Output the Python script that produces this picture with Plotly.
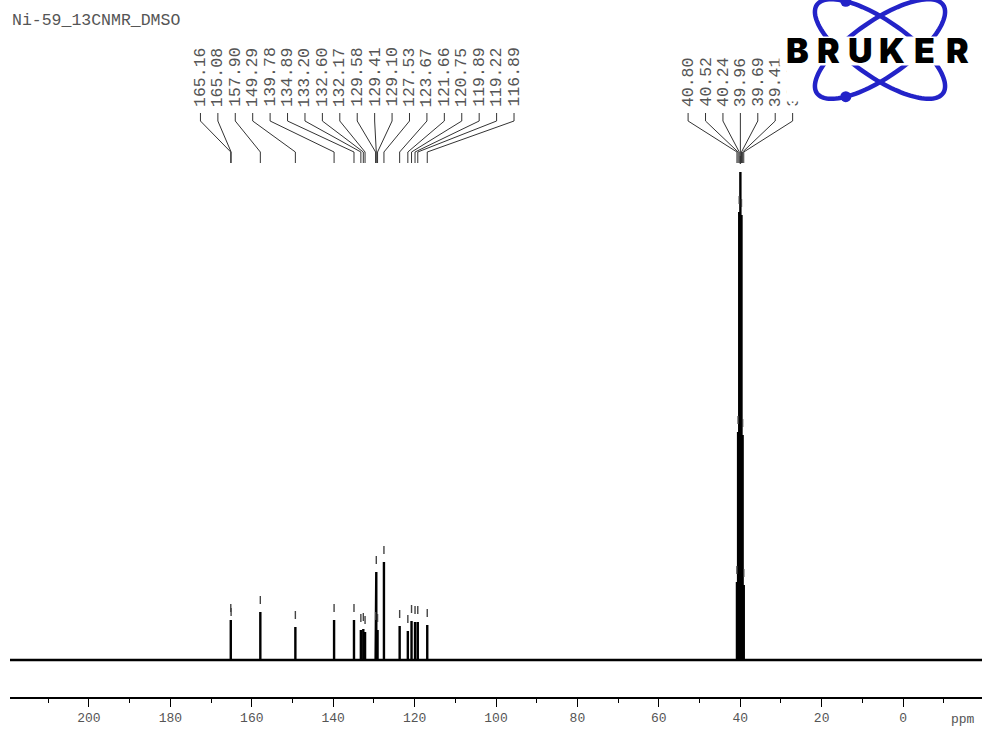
import math
import plotly.graph_objects as go

# ---------------- data ----------------
title_text = "Ni-59_13CNMR_DMSO"

arom_ppm = [165.16, 165.08, 157.90, 149.29, 139.78, 134.89, 133.20, 132.60, 132.17,
            129.58, 129.41, 129.10, 127.53, 123.67, 121.66, 120.75, 119.89, 119.22, 116.89]
arom_int = [40, 36, 48, 33, 40, 40, 30, 31, 28,
            32, 88, 30, 98, 34, 29, 39, 38, 38, 35]

dmso_ppm = [40.80, 40.52, 40.24, 39.96, 39.69, 39.41, 39.13]
dmso_int = [78, 228, 448, 488, 445, 225, 75]

tick_vals = [200, 180, 160, 140, 120, 100, 80, 60, 40, 20, 0]
tick_text = ["200", "180", "160", "140", "120", "100", "80", "60", "40", "20", "0"]
unit_label = "ppm"
logo_letters = ["B", "R", "U", "K", "E", "R"]

# ---------------- layout constants ----------------
W, H = 989, 741
X_RANGE = [219.4, -19.4]
Y_RANGE = [-37, 660]
LABEL_SPACING = 4.28      # ppm between label slots
MONO = "Liberation Mono, Courier New, monospace"
GREY = "#555555"
BLUE = "#2323c8"


def py2y(p):
    """pixel row -> data y"""
    return 660 - p


fig = go.Figure()

# spectrum (stick representation of picked peaks on a baseline)
all_pk = sorted(zip(arom_ppm + dmso_ppm, arom_int + dmso_int), key=lambda t: -t[0])
sx, sy = [X_RANGE[0]], [0]
for p, h in all_pk:
    sx += [p, p, p]
    sy += [0, h, 0]
sx.append(X_RANGE[1])
sy.append(0)
fig.add_trace(go.Scatter(x=sx, y=sy, mode="lines",
                         line=dict(color="black", width=2.4), hoverinfo="skip"))

# peak-pick markers above each peak
mx, my = [], []
for p, h in all_pk:
    mx += [p, p, None]
    my += [h + 8, h + 16, None]
fig.add_trace(go.Scatter(x=mx, y=my, mode="lines",
                         line=dict(color="#444444", width=1.4), hoverinfo="skip"))

# label slots and connectors
annotations = []


def add_group(ppms):
    n = len(ppms)
    center = sum(ppms) / n
    slots = [center + ((n - 1) / 2 - i) * LABEL_SPACING for i in range(n)]
    cx, cy = [], []
    for s, p in zip(slots, ppms):
        cx += [s, s, p, p, None]
        cy += [py2y(113), py2y(121), py2y(152), py2y(163), None]
        annotations.append(dict(
            x=s, y=py2y(109), xref="x", yref="y", text=f"{p:.2f}",
            textangle=-90, showarrow=False, xanchor="center", yanchor="bottom",
            font=dict(family=MONO, size=16.5, color=GREY)))
    fig.add_trace(go.Scatter(x=cx, y=cy, mode="lines",
                             line=dict(color="#333333", width=1), hoverinfo="skip"))


add_group(arom_ppm)
add_group(dmso_ppm)

# title
annotations.append(dict(x=10 / W, y=1 - 20 / H, xref="paper", yref="paper",
                        text=title_text, showarrow=False, xanchor="left", yanchor="middle",
                        font=dict(family=MONO, size=16.5, color=GREY)))
# ppm unit
annotations.append(dict(x=963 / W, y=1 - 719 / H, xref="paper", yref="paper",
                        text=unit_label, showarrow=False, xanchor="center", yanchor="middle",
                        font=dict(family=MONO, size=13, color=GREY)))

# ---------------- logo ----------------
shapes = []
cxp, cyp, a, b, th = 880, 49, 77, 28, math.radians(35)


def ellipse_path(sign):
    pts = []
    for k in range(121):
        t = 2 * math.pi * k / 120
        ex = a * math.cos(t)
        ey = b * math.sin(t)
        x = cxp + ex * math.cos(th) - sign * ey * math.sin(th)
        y = cyp + sign * ex * math.sin(th) + ey * math.cos(th)
        pts.append((x / W, 1 - y / H))
    return "M " + " L ".join(f"{u:.5f},{v:.5f}" for u, v in pts) + " Z"


for sgn in (1, -1):
    shapes.append(dict(type="path", xref="paper", yref="paper", path=ellipse_path(sgn),
                       line=dict(color=BLUE, width=4.5), fillcolor="rgba(0,0,0,0)", layer="above"))

t = math.radians(-136)
dx = a * math.cos(t) * math.cos(th) - b * math.sin(t) * math.sin(th)
dy = a * math.cos(t) * math.sin(th) + b * math.sin(t) * math.cos(th)
for (px, pyy) in [(cxp + dx, cyp + dy), (cxp + dx, cyp - dy)]:
    r = 5.5
    shapes.append(dict(type="circle", xref="paper", yref="paper",
                       x0=(px - r) / W, x1=(px + r) / W,
                       y0=1 - (pyy + r) / H, y1=1 - (pyy - r) / H,
                       fillcolor=BLUE, line=dict(color=BLUE, width=0), layer="above"))

# white block of the logo hiding the last label
annotations.append(dict(x=786 / W, y=1, xref="paper", yref="paper", text=" ",
                        showarrow=False, xanchor="left", yanchor="top",
                        width=22, height=100, bgcolor="white", borderpad=0))
# white band behind lettering
annotations.append(dict(x=879 / W, y=1 - 51 / H, xref="paper", yref="paper", text=" ",
                        showarrow=False, xanchor="center", yanchor="middle",
                        width=198, height=28, bgcolor="white", borderpad=0))
letter_x = [797, 828, 860, 892, 924, 957]
for lx, ch in zip(letter_x, logo_letters):
    annotations.append(dict(x=lx / W, y=1 - 51 / H, xref="paper", yref="paper",
                            text=ch, showarrow=False,
                            xanchor="center", yanchor="middle",
                            font=dict(family="Inter, DejaVu Sans", size=34, color="black",
                                      weight=900)))

fig.update_layout(
    width=W, height=H,
    margin=dict(l=0, r=0, t=0, b=0),
    paper_bgcolor="white", plot_bgcolor="white",
    showlegend=False,
    xaxis=dict(domain=[10 / W, 982 / W], range=X_RANGE, showline=True,
               linecolor="black", linewidth=1.5, ticks="outside", ticklen=8,
               tickwidth=1, tickcolor="black", tickmode="array",
               tickvals=tick_vals, ticktext=tick_text,
               tickfont=dict(family=MONO, size=13, color=GREY),
               showgrid=False, zeroline=False,
               minor=dict(ticks="outside", ticklen=4, dtick=10, tick0=0,
                          tickcolor="black", showgrid=False)),
    yaxis=dict(domain=[44 / H, 1], range=Y_RANGE, visible=False),
    annotations=annotations,
    shapes=shapes,
)

fig.write_html("out.html")
